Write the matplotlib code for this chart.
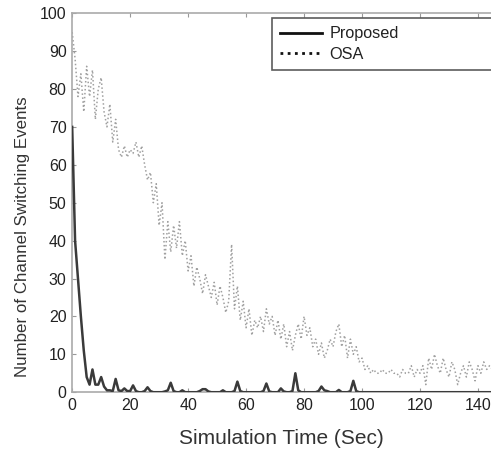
import numpy as np
import matplotlib
matplotlib.use("Agg")
import matplotlib.pyplot as plt

plt.rcParams['font.family'] = ['Liberation Sans', 'DejaVu Sans']

# temps de simulation (s), un point par seconde
temps = np.arange(0, 146)

# OSA : nombre de changements de canal
osa = [95, 88, 78, 84, 74, 86, 78, 85, 72, 80,
       83, 74, 70, 76, 66, 72, 64, 62, 65, 62,
       64, 63, 66, 62, 65, 60, 56, 58, 50, 55,
       44, 50, 35, 45, 37, 44, 38, 45, 36, 40,
       32, 36, 28, 33, 30, 26, 31, 28, 25, 29,
       23, 28, 25, 21, 24, 39, 22, 28, 19, 24,
       17, 22, 15, 19, 17, 20, 16, 22, 18, 20,
       15, 19, 14, 18, 12, 16, 11, 15, 18, 14,
       20, 15, 17, 12, 14, 10, 13, 9, 11, 14,
       12, 16, 18, 12, 15, 9, 14, 10, 12, 8,
       9, 6, 7, 5, 6, 5, 5, 6, 5, 5,
       6, 5, 5, 4, 6, 5, 5, 7, 4, 6,
       5, 7, 2, 9, 6, 10, 7, 5, 9, 6,
       4, 8, 6, 2, 5, 7, 4, 8, 6, 3,
       7, 5, 8, 6, 7, 6]

# methode proposee
propose = [70, 40, 30, 20, 11, 4, 2, 6, 2, 2,
           4, 1.5, 0.5, 0.5, 0.3, 3.5, 0.5, 0.3, 1, 0.3,
           0.3, 1.8, 0.3, 0, 0, 0.3, 1.3, 0.3, 0, 0,
           0, 0, 0.2, 0.5, 2.5, 0.3, 0, 0, 0.5, 0,
           0, 0, 0, 0, 0.3, 0.8, 0.8, 0.2, 0, 0,
           0, 0, 0.5, 0, 0, 0, 0.3, 2.8, 0.3, 0,
           0, 0, 0, 0, 0, 0, 0.3, 2.3, 0.2, 0,
           0, 0, 1, 0.2, 0, 0, 0.3, 5, 0.5, 0,
           0, 0, 0, 0, 0, 0.3, 1.5, 0.5, 0.3, 0,
           0, 0, 0.6, 0, 0, 0, 0.3, 3, 0.3, 0,
           0, 0, 0, 0, 0, 0, 0, 0, 0, 0,
           0, 0, 0, 0, 0, 0, 0, 0, 0, 0,
           0, 0, 0, 0, 0, 0, 0, 0, 0, 0,
           0, 0, 0, 0, 0, 0, 0, 0, 0, 0,
           0, 0, 0, 0, 0, 0]

fig = plt.figure(figsize=(4.91, 4.55), dpi=100)
ax = fig.add_axes([0.147, 0.138, 0.853, 0.833])

ax.plot(temps, propose, color="#3a3a3a", lw=1.8, label="Proposed", zorder=3)
ax.plot(temps, osa, color="#a0a0a0", lw=1.1, ls=(0, (1, 1.6)), label="OSA")

ax.set_xlim(0, 144.5)
ax.set_ylim(0, 100)
ax.set_xticks(np.arange(0, 141, 20))
ax.set_yticks(np.arange(0, 101, 10))
ax.tick_params(direction="in", top=True, right=False, length=3,
               color="#999999", labelsize=11.5, labelcolor="#222222", pad=4)

for s in ["left", "top", "bottom"]:
    ax.spines[s].set_color("#aaaaaa")
    ax.spines[s].set_linewidth(1.2)
ax.spines["right"].set_visible(False)

ax.set_xlabel("Simulation Time (Sec)", fontsize=15, color="#333333", labelpad=12)
ax.set_ylabel("Number of Channel Switching Events", fontsize=12.2, color="#333333")
ax.yaxis.set_label_coords(-0.10, 0.41)

leg = ax.legend(loc="upper left", bbox_to_anchor=(0.477, 0.987, 0.6, 0), mode="expand",
                borderaxespad=0, fontsize=11.7, frameon=True, fancybox=False,
                borderpad=0.5, handlelength=2.6, handletextpad=0.45,
                labelspacing=0.35)
leg.get_frame().set_edgecolor("#333333")
leg.get_frame().set_linewidth(1.2)
for h in leg.get_lines():
    h.set_color("#111111")
    h.set_linewidth(2)
for t in leg.get_texts():
    t.set_color("#222222")

plt.savefig("out.png", dpi=100)
